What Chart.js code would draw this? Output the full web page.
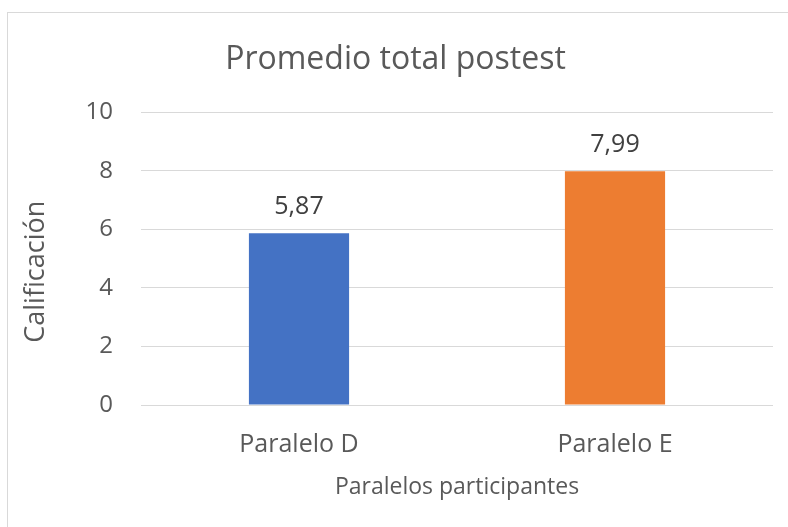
<!DOCTYPE html>
<html>
<head>
<meta charset="utf-8">
<script src="https://cdn.jsdelivr.net/npm/chart.js@4"></script>
<style>
  html, body { margin: 0; padding: 0; background: #fff; }
  #wrap { width: 788px; height: 527px; position: relative; }
</style>
</head>
<body>
<div id="wrap"><canvas id="chart" width="788" height="527"></canvas></div>
<script>
const categories = ['Paralelo D', 'Paralelo E'];
const values = [5.87, 7.99];
const barColors = ['#4472c4', '#ed7d31'];
const titleText = 'Promedio total postest';
const yTitle = 'Calificación';
const xTitle = 'Paralelos participantes';

const textColor = '#595959';
const gridColor = '#d9d9d9';
const font = 'Open Sans';

// frame around the chart, like the Excel chart border
const framePlugin = {
  id: 'frame',
  beforeDraw(chart) {
    const ctx = chart.ctx;
    ctx.save();
    ctx.strokeStyle = gridColor;
    ctx.lineWidth = 1;
    ctx.strokeRect(7.5, 12.5, 800, 600);
    ctx.restore();
  }
};

// y axis title, Excel centres it a bit lower than the plot area
const yTitlePlugin = {
  id: 'yTitle',
  afterDraw(chart) {
    const ctx = chart.ctx;
    const a = chart.chartArea;
    ctx.save();
    ctx.translate(36, (a.top + a.bottom) / 2 + 13);
    ctx.rotate(-Math.PI / 2);
    ctx.fillStyle = textColor;
    ctx.font = '27px "' + font + '"';
    ctx.textAlign = 'center';
    ctx.textBaseline = 'middle';
    ctx.fillText(yTitle, 0, 0);
    ctx.restore();
  }
};

// value labels above the bars, decimal comma
const labelPlugin = {
  id: 'valueLabels',
  afterDatasetsDraw(chart) {
    const ctx = chart.ctx;
    const meta = chart.getDatasetMeta(0);
    ctx.save();
    ctx.fillStyle = '#404040';
    ctx.font = '25px "' + font + '"';
    ctx.textAlign = 'center';
    ctx.textBaseline = 'middle';
    meta.data.forEach((bar, i) => {
      ctx.fillText(values[i].toFixed(2).replace('.', ','), bar.x, bar.y - 26);
    });
    ctx.restore();
  }
};

new Chart(document.getElementById('chart'), {
  type: 'bar',
  data: {
    labels: categories,
    datasets: [{ data: values, backgroundColor: barColors, categoryPercentage: 1, barPercentage: 0.317 }]
  },
  options: {
    responsive: false,
    animation: false,
    layout: { padding: { left: 18, right: 15, top: 18, bottom: 26 } },
    plugins: {
      legend: { display: false },
      tooltip: { enabled: false },
      title: {
        display: true, text: titleText, color: textColor,
        font: { family: font, size: 32, weight: 'normal' },
        padding: { top: 23, bottom: 33 }
      }
    },
    scales: {
      x: {
        afterFit: (scale) => { scale.height = 96; },
        grid: { display: false },
        border: { display: false },
        ticks: { color: textColor, font: { family: font, size: 25 }, padding: 17 },
        title: { display: true, text: xTitle, color: textColor, font: { family: font, size: 23 }, padding: { top: 0, bottom: 0 } }
      },
      y: {
        min: 0, max: 10,
        afterFit: (scale) => { scale.width = 123; },
        ticks: { stepSize: 2, color: textColor, font: { family: font, size: 24 }, padding: 28 },
        grid: { color: gridColor, lineWidth: 1, drawTicks: false },
        border: { display: false },
        title: { display: false }
      }
    }
  },
  plugins: [framePlugin, yTitlePlugin, labelPlugin]
});
</script>
</body>
</html>
